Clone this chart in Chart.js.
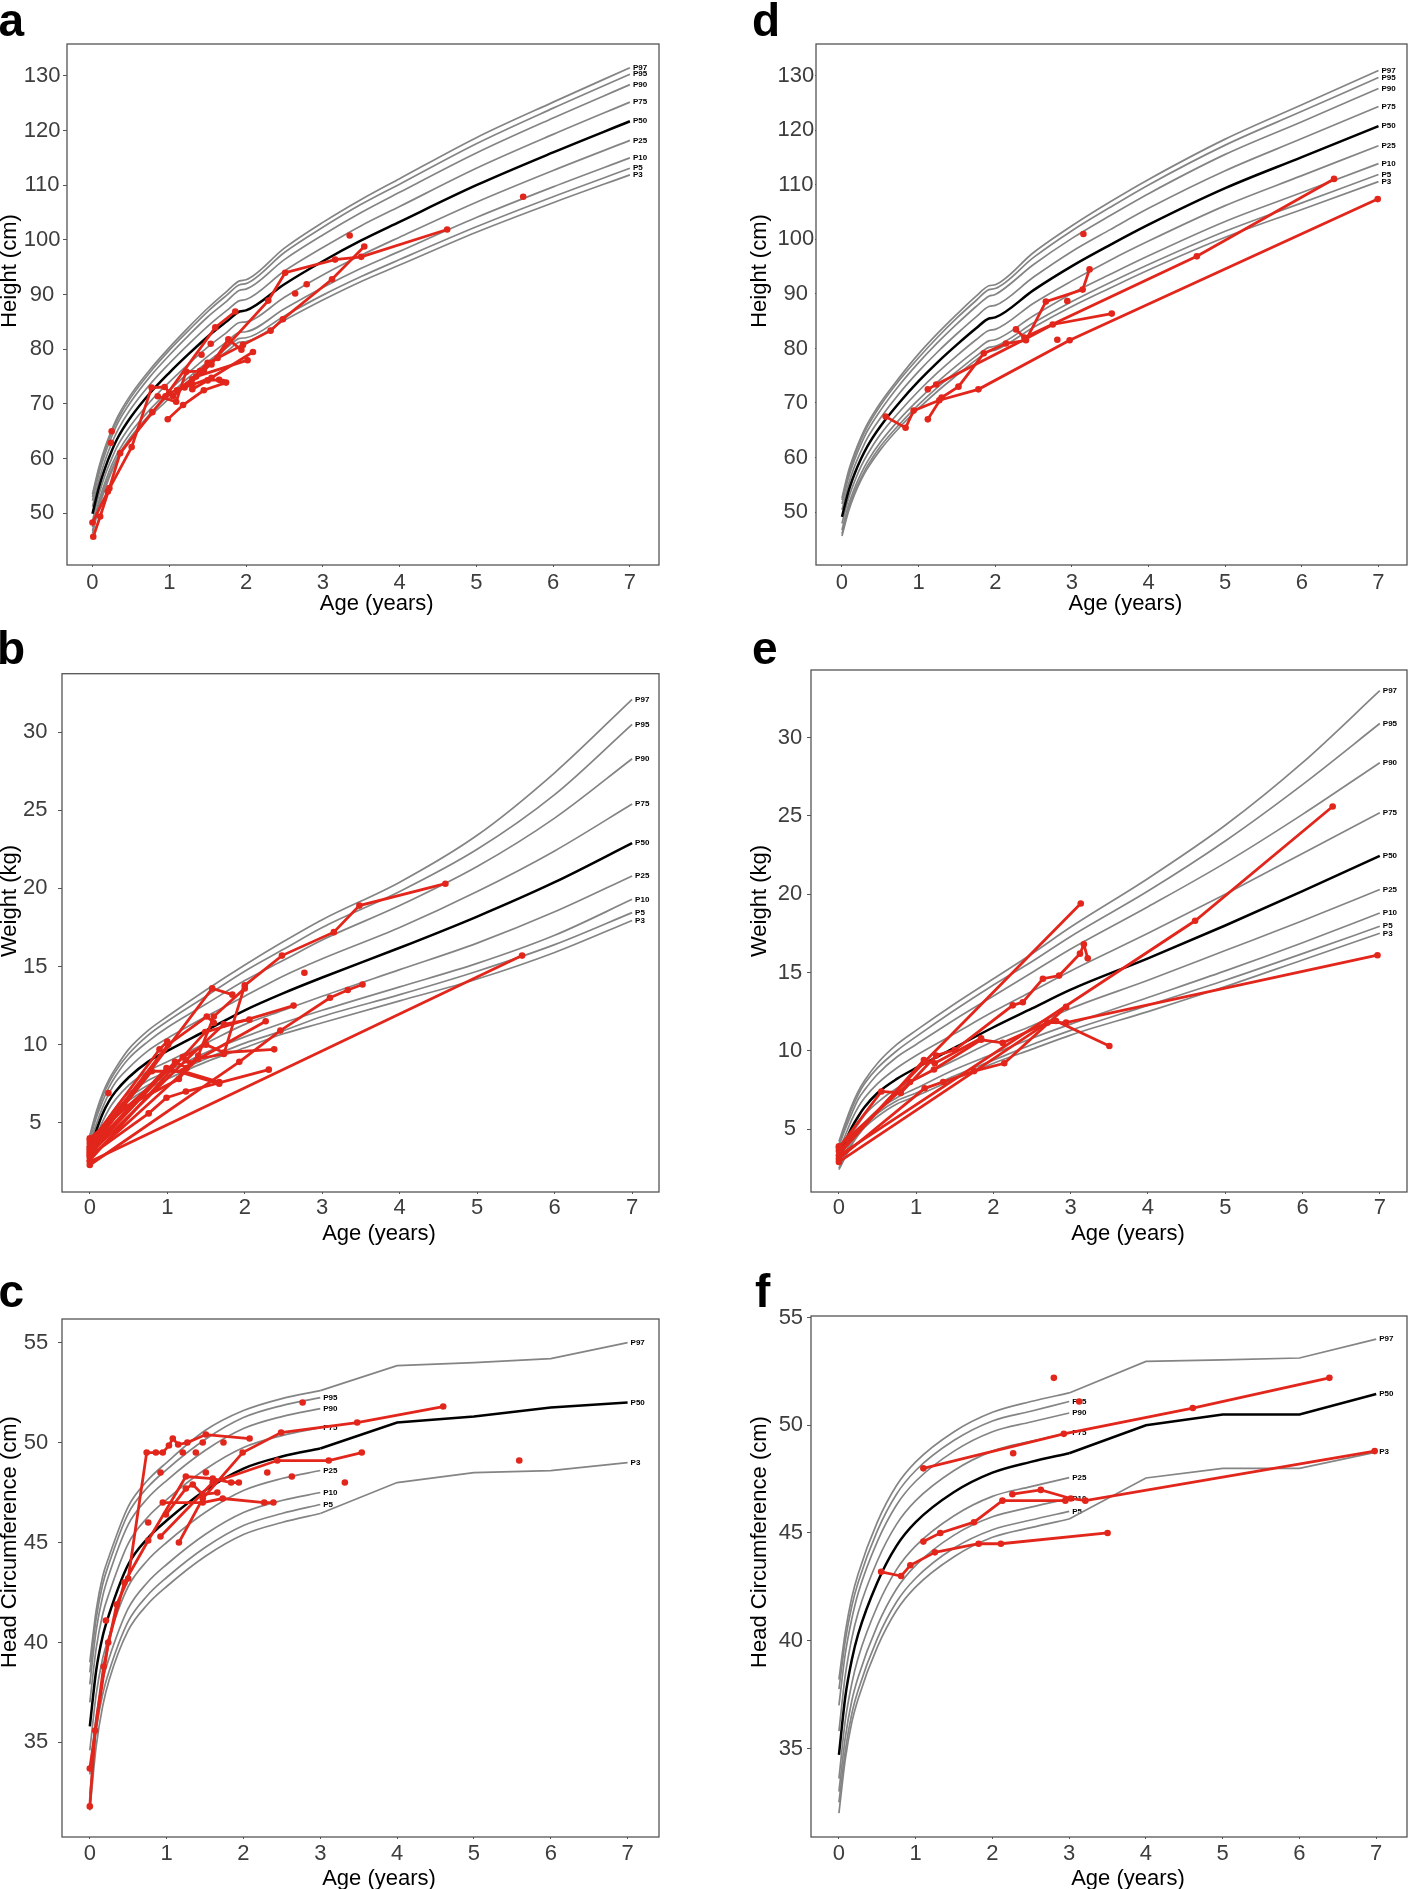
<!DOCTYPE html>
<html><head><meta charset="utf-8">
<script src="https://cdn.jsdelivr.net/npm/chart.js@4.4.1/dist/chart.umd.min.js"></script>
<style>
html,body{margin:0;padding:0;background:#fff;}
body{width:1411px;height:1889px;overflow:hidden;position:relative;font-family:"Liberation Sans",Arial,sans-serif;}
canvas{position:absolute;}
.letter{position:absolute;font:bold 46px "Liberation Sans",Arial,sans-serif;line-height:46px;color:#000;}
</style></head>
<body>
<canvas id="ca"></canvas><canvas id="cb"></canvas><canvas id="cc"></canvas>
<canvas id="cd"></canvas><canvas id="ce"></canvas><canvas id="cf"></canvas>
<div class="letter" style="left:-1.5px;top:-3.3px">a</div>
<div class="letter" style="left:-3px;top:624.7px">b</div>
<div class="letter" style="left:-1.5px;top:1268px">c</div>
<div class="letter" style="left:752px;top:-3.3px">d</div>
<div class="letter" style="left:752px;top:624.7px">e</div>
<div class="letter" style="left:755px;top:1268px">f</div>
<script>
// ---------------- DATA ----------------
const pctLabels = ['P3','P5','P10','P25','P50','P75','P90','P95','P97'];
const xTicks = [0,1,2,3,4,5,6,7];
const yTicksHeight = [50,60,70,80,90,100,110,120,130];
const yTicksWeight = [5,10,15,20,25,30];
const yTicksHead = [35,40,45,50,55];

// Height reference ages (years)
const ageH = [0,0.083,0.167,0.25,0.333,0.5,0.75,1,1.25,1.5,1.75,1.917,2,2.5,3,3.5,4,5,6,7];
// a: boys height percentiles
const hB_P3  = [46.3,51.0,54.6,57.6,60.0,63.5,67.7,71.0,74.2,77.1,79.6,81.3,81.4,85.3,89.0,92.4,95.4,101.4,106.8,111.9];
const hB_P5  = [46.8,51.5,55.1,58.0,60.5,64.0,68.2,71.6,74.8,77.7,80.3,82.0,82.1,86.1,89.9,93.3,96.4,102.4,107.9,113.1];
const hB_P10 = [47.5,52.2,55.8,58.8,61.2,64.8,69.0,72.5,75.7,78.7,81.4,83.1,83.2,87.4,91.3,94.8,97.9,104.1,109.7,115.0];
const hB_P25 = [48.6,53.4,57.1,60.0,62.5,66.1,70.4,74.0,77.3,80.4,83.1,84.9,85.0,89.5,93.6,97.2,100.5,106.9,112.7,118.2];
const hB_P50 = [49.9,54.7,58.4,61.4,63.9,67.6,72.0,75.7,79.1,82.3,85.1,86.9,87.1,91.9,96.1,99.9,103.3,110.0,116.0,121.7];
const hB_P75 = [51.2,56.0,59.8,62.8,65.3,69.1,73.6,77.4,80.9,84.2,87.1,88.9,89.1,94.3,98.6,102.6,106.1,113.1,119.3,125.2];
const hB_P90 = [52.3,57.2,61.0,64.0,66.6,70.4,75.0,78.9,82.5,85.9,88.8,90.8,91.0,96.4,100.9,105.0,108.7,115.9,122.3,128.4];
const hB_P95 = [53.0,57.9,61.7,64.8,67.3,71.2,75.8,79.8,83.4,86.9,89.9,91.8,92.0,97.7,102.3,106.5,110.2,117.6,124.1,130.3];
const hB_P97 = [53.5,58.4,62.2,65.2,67.8,71.7,76.3,80.3,84.0,87.5,90.6,92.5,92.7,98.5,103.2,107.4,111.2,118.7,125.2,131.5];
// d: girls height percentiles
const hG_P3  = [45.6,50.0,53.3,55.9,58.0,61.4,65.5,69.0,72.2,75.1,77.9,79.5,79.7,83.9,87.7,91.1,94.4,100.4,105.5,110.6];
const hG_P5  = [46.0,50.5,53.8,56.3,58.5,62.0,66.1,69.7,72.9,75.8,78.6,80.2,80.4,84.7,88.6,92.1,95.4,101.5,106.7,111.9];
const hG_P10 = [46.7,51.2,54.5,57.1,59.3,62.8,67.0,70.6,73.9,76.9,79.7,81.4,81.6,86.0,90.1,93.6,97.0,103.3,108.6,113.9];
const hG_P25 = [47.9,52.4,55.7,58.4,60.6,64.2,68.4,72.2,75.6,78.7,81.6,83.3,83.5,88.3,92.4,96.2,99.7,106.2,111.7,117.2];
const hG_P50 = [49.1,53.7,57.1,59.8,62.1,65.7,70.1,74.0,77.5,80.7,83.7,85.5,85.7,90.7,95.1,99.0,102.7,109.4,115.1,120.8];
const hG_P75 = [50.4,55.0,58.5,61.2,63.6,67.2,71.8,75.8,79.4,82.7,85.8,87.7,87.9,93.1,97.8,101.8,105.7,112.6,118.5,124.4];
const hG_P90 = [51.5,56.2,59.7,62.5,64.9,68.6,73.3,77.4,81.1,84.5,87.7,89.6,89.9,95.4,100.2,104.4,108.4,115.6,121.6,127.7];
const hG_P95 = [52.2,56.9,60.4,63.3,65.7,69.5,74.2,78.3,82.1,85.6,88.8,90.8,91.0,96.7,101.6,105.9,110.0,117.3,123.5,129.7];
const hG_P97 = [52.6,57.4,60.9,63.8,66.2,70.0,74.7,79.0,82.8,86.3,89.6,91.5,91.7,97.6,102.5,106.9,111.0,118.4,124.7,131.0];

// Weight reference ages
const ageW = [0,0.083,0.167,0.25,0.333,0.5,0.75,1,1.5,2,2.5,3,4,5,6,7];
// b: boys weight
const wB_P3  = [2.5,3.4,4.4,5.1,5.6,6.4,7.2,7.8,8.9,9.8,10.7,11.4,12.8,14.2,15.9,17.95];
const wB_P5  = [2.6,3.6,4.5,5.2,5.8,6.6,7.4,8.0,9.1,10.1,10.9,11.8,13.2,14.7,16.4,18.45];
const wB_P10 = [2.8,3.8,4.7,5.4,6.0,6.9,7.7,8.3,9.5,10.5,11.4,12.2,13.7,15.2,17.0,19.3];
const wB_P25 = [3.0,4.1,5.1,5.9,6.5,7.4,8.3,8.9,10.1,11.3,12.2,13.1,14.8,16.5,18.5,20.8];
const wB_P50 = [3.3,4.5,5.6,6.4,7.0,7.9,8.9,9.6,10.9,12.2,13.3,14.3,16.2,18.2,20.4,22.9];
const wB_P75 = [3.7,4.9,6.0,6.9,7.6,8.5,9.6,10.4,11.8,13.1,14.4,15.5,17.5,19.8,22.4,25.4];
const wB_P90 = [3.9,5.3,6.4,7.3,8.0,9.1,10.2,11.1,12.6,14.1,15.4,16.7,18.9,21.4,24.5,28.3];
const wB_P95 = [4.1,5.5,6.7,7.6,8.3,9.4,10.6,11.5,13.1,14.7,16.1,17.5,19.8,22.5,26.0,30.5];
const wB_P97 = [4.2,5.7,6.9,7.8,8.5,9.7,10.9,11.8,13.5,15.1,16.6,18.0,20.4,23.4,27.4,32.1];
// e: girls weight
const wG_P3  = [2.4,3.2,4.0,4.6,5.1,5.8,6.6,7.1,8.2,9.2,10.1,11.0,12.5,14.1,15.8,17.5];
const wG_P5  = [2.5,3.3,4.1,4.7,5.2,6.0,6.8,7.3,8.4,9.4,10.4,11.3,12.9,14.5,16.2,17.95];
const wG_P10 = [2.7,3.5,4.3,4.9,5.4,6.2,7.0,7.6,8.8,9.8,10.8,11.7,13.4,15.1,16.9,18.8];
const wG_P25 = [2.9,3.8,4.7,5.3,5.9,6.7,7.6,8.2,9.4,10.6,11.6,12.7,14.5,16.4,18.3,20.3];
const wG_P50 = [3.2,4.2,5.1,5.8,6.4,7.3,8.2,8.9,10.2,11.5,12.7,13.9,15.9,18.0,20.2,22.45];
const wG_P75 = [3.6,4.6,5.6,6.4,7.0,7.9,8.9,9.7,11.1,12.5,13.8,15.1,17.5,20.0,22.6,25.2];
const wG_P90 = [3.9,5.0,6.0,6.9,7.5,8.5,9.6,10.4,12.0,13.5,15.0,16.5,19.2,22.0,25.1,28.4];
const wG_P95 = [4.0,5.2,6.3,7.2,7.9,8.9,10.0,10.9,12.6,14.2,15.7,17.3,20.2,23.4,27.0,30.9];
const wG_P97 = [4.2,5.4,6.5,7.4,8.1,9.2,10.4,11.3,13.0,14.6,16.2,17.9,21.0,24.4,28.4,33.0];

// Head circumference reference ages
const ageHC = [0,0.083,0.167,0.25,0.5,0.75,1,1.5,2,2.5,3,4,5,6,7];
// c: boys head circumference
const cB_P3  = [31.6,34.8,36.8,38.1,40.6,41.9,42.8,44.3,45.4,46.0,46.45,48.0,48.5,48.6,49.0];
const cB_P5  = [32.4,35.6,37.4,38.55,41.05,42.35,43.25,44.75,45.85,46.45,46.9];
const cB_P10 = [33.4,36.3,38.1,39.2,41.7,43.0,43.9,45.4,46.5,47.1,47.5];
const cB_P25 = [34.6,37.4,39.2,40.3,42.8,44.1,45.0,46.5,47.6,48.2,48.6];
const cB_P50 = [35.8,38.6,40.3,41.4,43.9,45.2,46.1,47.6,48.7,49.3,49.7,51.0,51.3,51.75,52.0];
const cB_P75 = [37.0,39.7,41.4,42.45,44.95,46.25,47.15,48.65,49.75,50.35,50.75];
const cB_P90 = [37.9,40.6,42.3,43.4,45.9,47.2,48.1,49.6,50.7,51.3,51.7];
const cB_P95 = [38.5,41.2,42.9,43.95,46.45,47.75,48.65,50.15,51.25,51.85,52.25];
const cB_P97 = [39.0,41.6,43.3,44.3,46.8,48.1,49.0,50.6,51.6,52.2,52.6,53.85,54.0,54.2,55.0];
// f: girls head circumference
const cG_P3  = [32.0,34.5,36.2,37.3,39.7,41.4,42.5,43.9,44.8,45.25,45.65,47.55,48.0,48.0,48.75];
const cG_P5  = [32.5,34.9,36.6,37.7,40.1,41.8,42.9,44.3,45.15,45.6,46.0];
const cG_P10 = [33.0,35.5,37.2,38.3,40.7,42.4,43.5,44.9,45.75,46.2,46.6];
const cG_P25 = [33.6,36.3,38.0,39.2,41.6,43.3,44.4,45.8,46.7,47.15,47.57];
const cG_P50 = [34.7,37.4,39.1,40.3,42.7,44.4,45.5,46.9,47.8,48.3,48.7,50.0,50.5,50.5,51.45];
const cG_P75 = [35.8,38.4,40.1,41.3,43.7,45.4,46.5,47.9,48.8,49.25,49.66];
const cG_P90 = [37.0,39.4,41.0,42.2,44.6,46.3,47.4,48.8,49.7,50.15,50.57];
const cG_P95 = [37.75,40.0,41.6,42.7,45.1,46.8,47.9,49.3,50.2,50.65,51.1];
const cG_P97 = [38.2,40.4,42.0,43.1,45.5,47.2,48.3,49.7,50.6,51.1,51.5,52.96,53.03,53.12,54.0];

// Patient measurements [age, value] per patient
const patientsHeightBoys = [
  [[0.01,45.7],[0.1,49.4],[0.22,54.6],[0.36,61.0],[0.78,68.5],[0.95,71.4],[1.6,84.0],[1.86,86.9]],
  [[0.0,48.3],[0.2,54.0],[0.51,62.1],[0.77,73.0],[0.94,73.1],[1.05,71.4],[1.3,74.5],[1.5,77.5],[1.63,78.4],[1.96,80.8],[2.32,83.4],[2.48,85.5],[3.12,92.8],[3.54,98.8]],
  [[0.98,67.2],[1.18,69.8],[1.45,72.5],[1.74,73.9]],
  [[0.85,71.4],[1.09,70.4],[1.22,75.9],[1.45,76.0],[2.29,88.9],[2.51,94.0],[3.16,96.4],[3.5,96.9],[4.62,101.9]],
  [[1.0,72.0],[1.3,73.5],[1.55,74.8],[2.09,79.5]],
  [[1.1,72.5],[1.35,75.0],[2.02,78.0]],
  [[1.2,73.0],[1.4,76.0],[1.55,77.2],[1.77,81.8],[1.94,79.9]],
  [[1.3,72.7],[1.5,74.3],[1.65,74.4],[1.7,74.0]],
  [[0.25,65.0]],[[0.24,62.9]],[[1.42,79.0]],[[1.54,81.0]],[[2.64,90.2]],[[2.79,91.9]],[[3.35,100.8]],[[5.61,107.9]]
];
const patientsWeightBoys = [
  [[0,3.2],[1.58,13.6],[1.84,13.2]],
  [[0,2.8],[1.4,9.1],[1.73,9.4],[2.0,13.8],[2.48,15.7],[3.15,17.2],[3.48,18.9],[4.59,20.3]],
  [[0,3.5],[1.01,10.0],[1.51,11.8],[1.6,11.4]],
  [[0,3.0],[1.24,9.0],[1.73,11.3],[2.06,11.6]],
  [[0,2.6],[1.49,10.8],[2.63,12.5]],
  [[0,3.3],[0.99,8.5],[1.67,7.5]],
  [[0,2.3],[1.93,8.9],[2.46,10.9],[3.1,13.0],[3.33,13.5],[3.52,13.85]],
  [[0,2.5],[5.58,15.7]],
  [[0,2.9],[0.76,5.6],[0.99,6.6],[1.24,7.0],[2.31,8.4]],
  [[0,3.7],[0.9,9.7],[1.0,10.2]],
  [[0,3.9],[1.2,9.2],[1.5,10.0],[1.73,9.5],[2.38,9.7]],
  [[0,3.4],[0.8,8.3],[1.2,8.3],[1.67,7.6]],
  [[0,3.1],[1.1,8.9],[1.25,8.5],[1.4,9.3],[1.6,11.8],[2.0,13.6]],
  [[0,4.0],[0.45,6.0],[1.15,7.8],[1.3,8.8],[2.27,11.5]],
  [[0.24,6.9]],[[2.77,14.6]]
];
const patientsHeadBoys = [
  [[0,31.8],[0.07,35.6],[0.18,38.8],[0.35,41.9],[0.5,43.2],[0.74,49.5],[0.86,49.5],[0.95,49.5],[1.03,49.85],[1.08,50.2],[1.15,49.9],[1.27,50.0],[1.51,50.4],[2.08,50.2]],
  [[0,33.7],[0.24,40.0],[0.45,43.0],[0.76,45.1],[1.25,48.3],[1.6,48.2],[1.84,48.0],[1.94,48.0]],
  [[0.99,46.4],[1.25,47.7],[1.34,47.9],[1.47,47.4],[1.66,47.5]],
  [[0.95,47.0],[1.47,47.0],[1.73,47.2],[2.27,47.0],[2.39,47.0]],
  [[1.16,45.0],[1.47,47.2],[1.99,49.5],[2.49,50.5],[3.48,51.0],[4.6,51.8]],
  [[0.92,45.3],[1.6,48.0],[2.44,49.1],[3.11,49.1],[3.54,49.5]],
  [[2.77,52.0]],[[0.92,48.5]],[[1.51,48.5]],[[2.31,48.5]],[[2.63,48.3]],[[3.32,48.0]],[[1.21,49.5]],
  [[1.38,49.5]],[[1.47,50.0]],[[1.74,50.0]],[[0.76,46.0]],[[0.21,41.1]],[[5.59,49.1]]
];
const patientsHeightGirls = [
  [[0.57,67.5],[0.83,65.45],[0.935,68.6],[1.27,70.5],[1.78,72.5],[2.97,81.5],[6.99,107.4]],
  [[1.12,67.0],[1.3,71.0],[1.52,73.0],[1.85,79.1],[2.14,80.9],[2.40,81.5],[2.66,88.6],[3.14,90.8],[3.23,94.5]],
  [[1.12,72.5],[1.23,73.4],[2.40,81.8],[2.75,84.4],[3.52,86.4]],
  [[2.27,83.5],[2.38,82.0],[4.63,96.9],[6.42,111.1]],
  [[3.15,101.0]],[[2.94,88.7]],[[2.81,81.6]]
];
const patientsWeightGirls = [
  [[0,3.6],[1.11,9.3],[3.13,19.4]],
  [[0,3.8],[0.55,7.4],[0.8,7.3],[1.26,9.7],[1.5,10.05],[2.25,12.9],[2.38,13.1],[2.64,14.6],[2.85,14.8],[3.12,16.2],[3.17,16.8],[3.22,15.9]],
  [[0,3.3],[4.61,18.3],[6.39,25.6]],
  [[0,3.1],[1.11,7.6],[1.35,8.0],[1.75,8.7],[2.14,9.2],[2.94,12.8]],
  [[0,3.9],[0.92,8.0],[1.23,8.8],[1.84,10.7],[2.12,10.5],[2.7,11.8],[2.81,11.9],[3.5,10.3]],
  [[0,2.9],[2.7,11.8],[2.94,11.8],[6.97,16.1]],
  [[0.02,3.5],[1.1,9.4],[1.24,9.2],[1.84,10.8]]
];
const patientsHeadGirls = [
  [[1.1,48.0],[2.93,49.6],[4.61,50.8],[6.39,52.2]],
  [[0.55,43.2],[0.81,43.0],[0.93,43.5],[1.25,44.1],[1.82,44.5],[2.11,44.5],[3.5,45.0]],
  [[1.1,44.6],[1.32,45.0],[1.76,45.5],[2.13,46.5],[2.95,46.5]],
  [[2.26,46.8],[2.63,47.0],[3.02,46.6],[3.21,46.5],[6.98,48.8]],
  [[2.8,52.2]],[[3.13,51.1]],[[2.27,48.7]]
];

// ---------------- RENDERING ----------------
const FONT = '"Liberation Sans", Arial, sans-serif';
const RED = '#e2261b', GREY = '#848484';

function pctStyle(k) {
  return {borderColor: k === 4 ? '#000' : GREY, backgroundColor: 'transparent',
          borderWidth: k === 4 ? 2.5 : 1.7, pointRadius: 0, showLine: true};
}
// linearFrom: index after which the reference is drawn as straight segments
function buildDatasets(patients, ages, pcts, linearFrom) {
  const ds = [];
  patients.forEach(tr => ds.push({
    data: tr.map(p => ({x: p[0], y: p[1]})),
    showLine: tr.length > 1, borderColor: RED, backgroundColor: RED,
    borderWidth: 2.8, pointRadius: 3.3, pointBorderWidth: 0, tension: 0
  }));
  [4,0,1,2,3,5,6,7,8].forEach(k => {
    const pts = pcts[k].map((v, i) => ({x: ages[i], y: v}));
    if (linearFrom !== undefined && pts.length > linearFrom + 1) {
      ds.push(Object.assign({data: pts.slice(0, linearFrom + 1), cubicInterpolationMode: 'monotone'}, pctStyle(k)));
      ds.push(Object.assign({data: pts.slice(linearFrom), pLabel: pctLabels[k], tension: 0}, pctStyle(k)));
    } else {
      ds.push(Object.assign({data: pts, pLabel: pctLabels[k], cubicInterpolationMode: 'monotone'}, pctStyle(k)));
    }
  });
  return ds;
}

function makePanel(cfg) {
  const [L, T, R, B] = cfg.area;
  const padTop = 20;
  const canvasLeft = cfg.left;
  const canvasTop = T - padTop;
  const W = R + 2 - canvasLeft;
  const H = padTop + (B - T) + cfg.xH;
  const yW = L - canvasLeft;
  const cv = document.getElementById(cfg.id);
  cv.width = W; cv.height = H;
  cv.style.left = canvasLeft + 'px'; cv.style.top = canvasTop + 'px';
  cv.style.width = W + 'px'; cv.style.height = H + 'px';

  const decor = {
    id: 'decor' + cfg.id,
    beforeDatasetsDraw(chart) {
      const ctx = chart.ctx;
      ctx.save();
      ctx.font = 'bold 8px ' + FONT;
      ctx.fillStyle = '#000'; ctx.textAlign = 'left'; ctx.textBaseline = 'middle';
      chart.data.datasets.forEach((ds, i) => {
        if (!ds.pLabel) return;
        const meta = chart.getDatasetMeta(i);
        const pt = meta.data[meta.data.length - 1];
        ctx.fillText(ds.pLabel, pt.x + 3, pt.y);
      });
      ctx.restore();
    },
    afterDraw(chart) {
      const ctx = chart.ctx, ca = chart.chartArea;
      ctx.save();
      ctx.strokeStyle = '#555'; ctx.lineWidth = 1.3;
      ctx.strokeRect(ca.left, ca.top, ca.right - ca.left, ca.bottom - ca.top);
      ctx.fillStyle = '#000'; ctx.font = '22px ' + FONT;
      ctx.textAlign = 'center'; ctx.textBaseline = 'middle';
      ctx.fillText(cfg.xTitle, cfg.xTitlePos[0] - canvasLeft, cfg.xTitlePos[1] - canvasTop);
      ctx.translate(cfg.yTitlePos[0] - canvasLeft, cfg.yTitlePos[1] - canvasTop);
      ctx.rotate(-Math.PI / 2);
      ctx.fillText(cfg.yTitle, 0, 0);
      ctx.restore();
    }
  };

  new Chart(cv, {
    type: 'scatter',
    data: {datasets: buildDatasets(cfg.patients, cfg.ages, cfg.pcts, cfg.linearFrom)},
    options: {
      responsive: false, animation: false, events: [],
      layout: {padding: {left: 0, top: padTop, right: 2, bottom: 0}},
      plugins: {legend: {display: false}, tooltip: {enabled: false}},
      scales: {
        x: {
          type: 'linear', min: cfg.x[0], max: cfg.x[1],
          afterBuildTicks: s => { s.ticks = xTicks.map(v => ({value: v})); },
          afterFit: s => { s.height = cfg.xH; },
          grid: {display: true, drawOnChartArea: false, drawTicks: true, tickLength: 2, color: '#555'},
          border: {display: false},
          ticks: {padding: cfg.xPad, font: {family: FONT, size: 22}, color: '#3d3d3d', maxRotation: 0, autoSkip: false}
        },
        y: {
          type: 'linear', min: cfg.y[0], max: cfg.y[1],
          afterBuildTicks: s => { s.ticks = cfg.yTicks.map(v => ({value: v})); },
          afterFit: s => { s.width = yW; },
          grid: {display: true, drawOnChartArea: false, drawTicks: true, tickLength: cfg.yTickLen, color: '#555'},
          border: {display: false},
          ticks: {padding: cfg.yPad, crossAlign: 'center', font: {family: FONT, size: 22}, color: '#3d3d3d', autoSkip: false}
        }
      }
    },
    plugins: [decor]
  });
}

const AGE_TITLE = 'Age (years)';
makePanel({id:'ca', left:0, area:[67,44,661,565], x:[-0.332,7.379], y:[40.54,135.83], yTicks:yTicksHeight,
  yTickLen:4, yPad:2.6, xPad:2.8, xH:52, yTitle:'Height (cm)', yTitlePos:[10,271], xTitle:AGE_TITLE, xTitlePos:[376.7,603.5],
  patients:patientsHeightBoys, ages:ageH, pcts:[hB_P3,hB_P5,hB_P10,hB_P25,hB_P50,hB_P75,hB_P90,hB_P95,hB_P97]});
makePanel({id:'cd', left:745, area:[816,44,1409,565], x:[-0.339,7.372], y:[40.28,135.85], yTicks:yTicksHeight,
  yTickLen:1, yPad:0.8, xPad:2.8, xH:52, yTitle:'Height (cm)', yTitlePos:[759.6,271], xTitle:AGE_TITLE, xTitlePos:[1125.4,603.5],
  patients:patientsHeightGirls, ages:ageH, pcts:[hG_P3,hG_P5,hG_P10,hG_P25,hG_P50,hG_P75,hG_P90,hG_P95,hG_P97]});
makePanel({id:'cb', left:0, area:[62,670,661,1192], x:[-0.359,7.347], y:[0.571,33.74], yTicks:yTicksWeight,
  yTickLen:4, yPad:10.5, xPad:1.1, xH:55, yTitle:'Weight (kg)', yTitlePos:[10,901], xTitle:AGE_TITLE, xTitlePos:[379,1233.7],
  patients:patientsWeightBoys, ages:ageW, pcts:[wB_P3,wB_P5,wB_P10,wB_P25,wB_P50,wB_P75,wB_P90,wB_P95,wB_P97]});
makePanel({id:'ce', left:745, area:[811,670,1409,1192], x:[-0.361,7.352], y:[0.976,34.32], yTicks:yTicksWeight,
  yTickLen:4, yPad:4.8, xPad:1.1, xH:55, yTitle:'Weight (kg)', yTitlePos:[759.6,901], xTitle:AGE_TITLE, xTitlePos:[1128,1233.7],
  patients:patientsWeightGirls, ages:ageW, pcts:[wG_P3,wG_P5,wG_P10,wG_P25,wG_P50,wG_P75,wG_P90,wG_P95,wG_P97]});
makePanel({id:'cc', left:0, area:[62,1316,661,1837], x:[-0.362,7.409], y:[30.27,56.18], yTicks:yTicksHead,
  yTickLen:4, yPad:9.8, xPad:1.4, xH:55, yTitle:'Head Circumference (cm)', yTitlePos:[10,1542], xTitle:AGE_TITLE, xTitlePos:[379,1878.5],
  patients:patientsHeadBoys, ages:ageHC, linearFrom:10, pcts:[cB_P3,cB_P5,cB_P10,cB_P25,cB_P50,cB_P75,cB_P90,cB_P95,cB_P97]});
makePanel({id:'cf', left:745, area:[811,1316,1409,1837], x:[-0.364,7.401], y:[30.89,55.07], yTicks:yTicksHead,
  yTickLen:4, yPad:3.9, xPad:1.4, xH:55, yTitle:'Head Circumference (cm)', yTitlePos:[759.6,1542], xTitle:AGE_TITLE, xTitlePos:[1128,1878.5],
  patients:patientsHeadGirls, ages:ageHC, linearFrom:10, pcts:[cG_P3,cG_P5,cG_P10,cG_P25,cG_P50,cG_P75,cG_P90,cG_P95,cG_P97]});
</script>
</body></html>
